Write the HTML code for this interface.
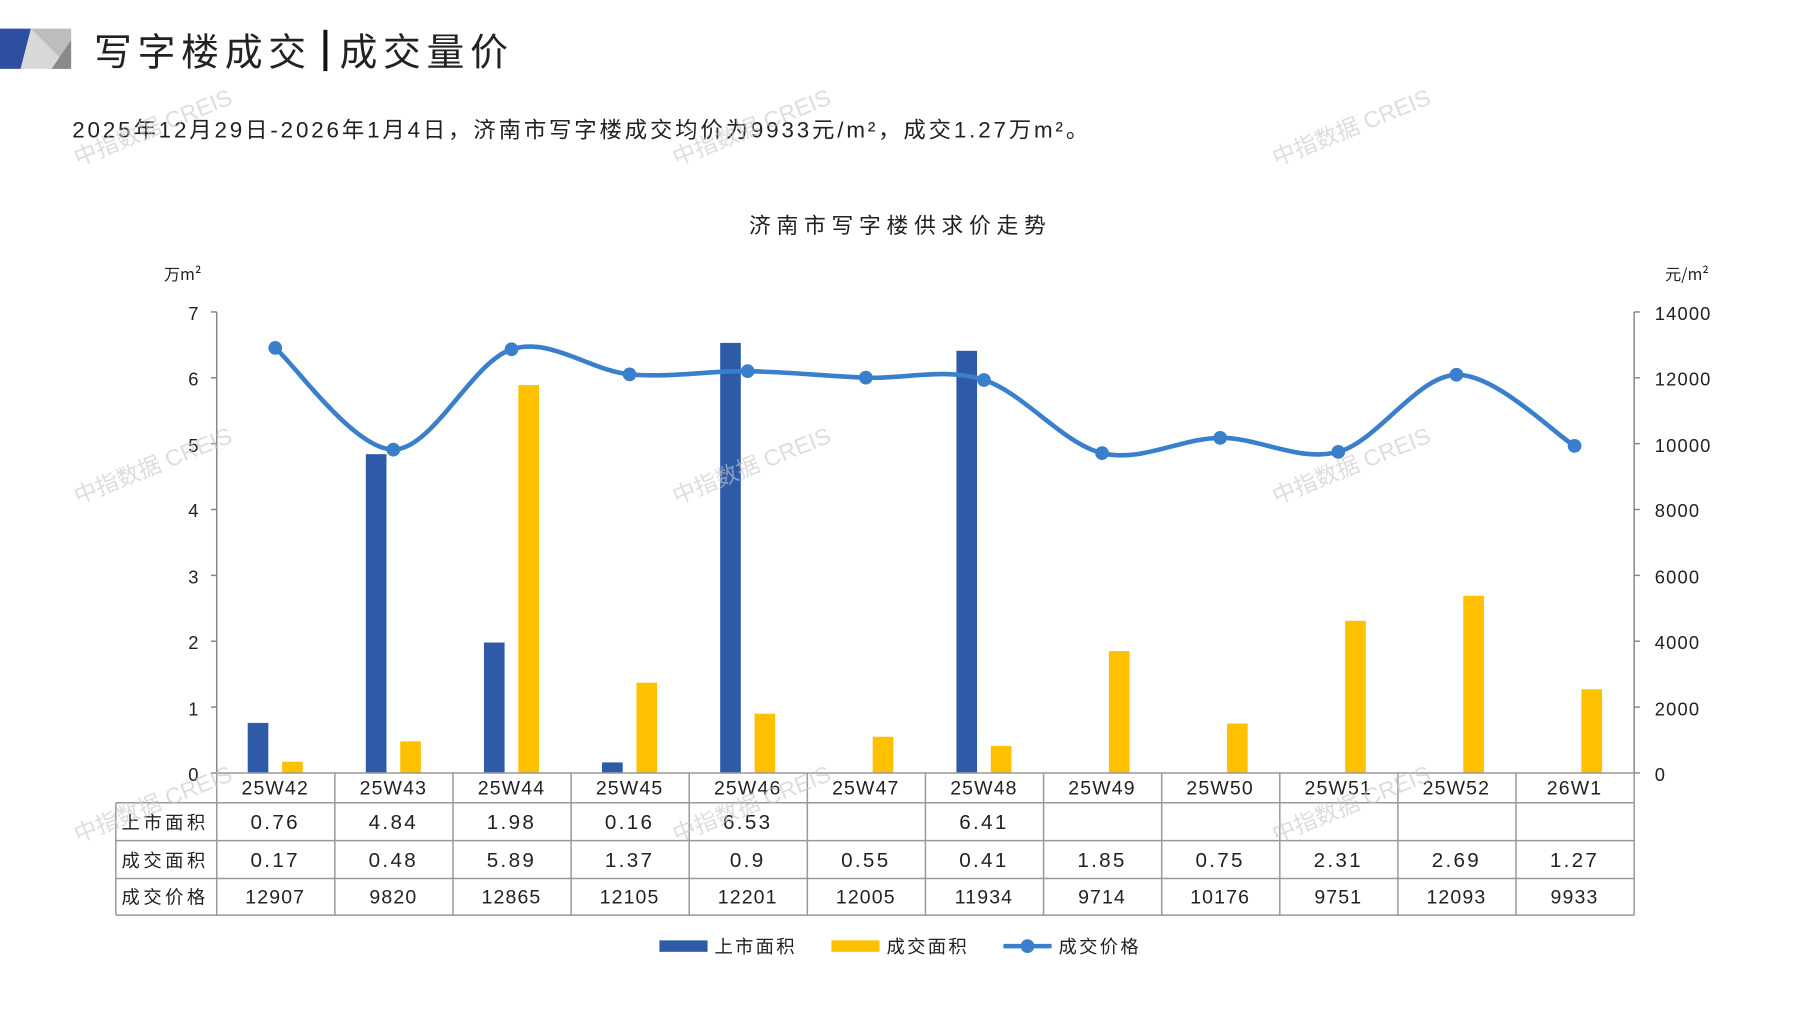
<!DOCTYPE html>
<html><head><meta charset="utf-8"><style>
html,body{margin:0;padding:0;background:#fff;}
svg{display:block;}
text{font-family:"Liberation Sans","Noto Sans CJK SC",sans-serif;fill:#222;}
.cjk{font-family:"Noto Sans CJK SC","WenQuanYi Zen Hei",sans-serif;}
.wm{font-family:"Liberation Sans","Noto Sans CJK SC",sans-serif;fill:#c8c8c8;font-size:20px;opacity:.6}
</style></head><body>
<svg id="s" width="1797" height="1010" viewBox="0 0 1567 880.7" xmlns="http://www.w3.org/2000/svg">
<polygon points="0,25 27,25 18,60 0,60" fill="#2E4FA0"/>
<polygon points="27,25 62,25 62,60 18,60" fill="#d8d8d8"/>
<polygon points="27,25 62,25 62,60" fill="#bdbdbd"/>
<polygon points="62,35 62,60 45,60" fill="#8a8a8a"/>
<text x="82" y="57" font-size="33" class="cjk" fill="#111" letter-spacing="5">写字楼成交</text>
<rect x="282" y="26" width="3.5" height="36" fill="#111"/>
<text x="296" y="57" font-size="33" class="cjk" fill="#111" letter-spacing="5">成交量价</text>
<text x="63" y="120" font-size="19.5" fill="#333" letter-spacing="2.5">2025年12月29日-2026年1月4日，济南市写字楼成交均价为9933元/m²，成交1.27万m²。</text>
<text x="785" y="203" font-size="19" text-anchor="middle" class="cjk" fill="#444" letter-spacing="5">济南市写字楼供求价走势</text>
<text x="143" y="244" font-size="14" class="cjk">万m²</text>
<text x="1452" y="244" font-size="14" class="cjk">元/m²</text>
<g id="axes" stroke="#888" stroke-width="1.3" fill="none">
<line x1="189" y1="272" x2="189" y2="674"/>
<line x1="1425" y1="272" x2="1425" y2="674"/>
</g>
<g font-size="16" text-anchor="end">
<text x="173" y="279">7</text><text x="173" y="336">6</text><text x="173" y="394">5</text><text x="173" y="451">4</text><text x="173" y="509">3</text><text x="173" y="566">2</text><text x="173" y="624">1</text><text x="173" y="681">0</text>
</g>
<g font-size="16" letter-spacing="1">
<text x="1443" y="279">14000</text><text x="1443" y="336">12000</text><text x="1443" y="394">10000</text><text x="1443" y="451">8000</text><text x="1443" y="509">6000</text><text x="1443" y="566">4000</text><text x="1443" y="624">2000</text><text x="1443" y="681">0</text>
</g>
<g id="bars"></g>
<path d="M240,303.4 C257.2,318.2 308.7,391.8 343,392 C377.3,392.2 411.7,315.5 446,304.6 C480.3,293.7 514.7,323.2 549,326.4 C583.3,329.6 617.7,323.2 652,323.7 C686.3,324.2 720.7,328.0 755,329.3 C789.3,330.6 823.7,320.3 858,331.3 C892.3,342.3 926.7,386.7 961,395.1 C995.3,403.5 1029.7,382.0 1064,381.8 C1098.3,381.6 1132.7,403.2 1167,394.0 C1201.3,384.8 1235.7,327.7 1270,326.8 C1304.3,325.9 1355.8,378.5 1373,388.8" fill="none" stroke="#3A7FCB" stroke-width="4"/>
<g id="dots" fill="#3A7FCB"></g>
<g id="table" stroke="#999" stroke-width="1.3"></g>
<g font-size="17" text-anchor="middle" id="tt" letter-spacing="1">
<text x="240" y="693">25W42</text><text x="343" y="693">25W43</text><text x="446" y="693">25W44</text><text x="549" y="693">25W45</text><text x="652" y="693">25W46</text><text x="755" y="693">25W47</text><text x="858" y="693">25W48</text><text x="961" y="693">25W49</text><text x="1064" y="693">25W50</text><text x="1167" y="693">25W51</text><text x="1270" y="693">25W52</text><text x="1373" y="693">26W1</text>
</g>
<g font-size="18" text-anchor="middle" letter-spacing="2">
<text x="240" y="723">0.76</text><text x="343" y="723">4.84</text><text x="446" y="723">1.98</text><text x="549" y="723">0.16</text><text x="652" y="723">6.53</text><text x="858" y="723">6.41</text>
<text x="240" y="756">0.17</text><text x="343" y="756">0.48</text><text x="446" y="756">5.89</text><text x="549" y="756">1.37</text><text x="652" y="756">0.9</text><text x="755" y="756">0.55</text><text x="858" y="756">0.41</text><text x="961" y="756">1.85</text><text x="1064" y="756">0.75</text><text x="1167" y="756">2.31</text><text x="1270" y="756">2.69</text><text x="1373" y="756">1.27</text>
</g>
<g font-size="17" text-anchor="middle" letter-spacing="1">
<text x="240" y="788">12907</text><text x="343" y="788">9820</text><text x="446" y="788">12865</text><text x="549" y="788">12105</text><text x="652" y="788">12201</text><text x="755" y="788">12005</text><text x="858" y="788">11934</text><text x="961" y="788">9714</text><text x="1064" y="788">10176</text><text x="1167" y="788">9751</text><text x="1270" y="788">12093</text><text x="1373" y="788">9933</text>
</g>
<g font-size="16" class="cjk">
<text x="106" y="723" class="cjk" letter-spacing="3">上市面积</text>
<text x="106" y="756" class="cjk" letter-spacing="3">成交面积</text>
<text x="106" y="788" class="cjk" letter-spacing="3">成交价格</text>
</g>
<rect x="575" y="820" width="42" height="10" fill="#2E5AA8"/>
<text x="623" y="831" font-size="16" class="cjk" letter-spacing="2">上市面积</text>
<rect x="725" y="820" width="42" height="10" fill="#FFC000"/>
<text x="773" y="831" font-size="16" class="cjk" letter-spacing="2">成交面积</text>
<line x1="875" y1="825" x2="917" y2="825" stroke="#3A7FCB" stroke-width="4"/>
<circle cx="896" cy="825" r="6" fill="#3A7FCB"/>
<text x="923" y="831" font-size="16" class="cjk" letter-spacing="2">成交价格</text>
<g id="wms"></g>
</svg>
<script>
var NS="http://www.w3.org/2000/svg";
function el(t,a,p){var e=document.createElementNS(NS,t);for(var k in a)e.setAttribute(k,a[k]);document.getElementById(p).appendChild(e);return e;}
var blue=[0.76,4.84,1.98,0.16,6.53,0,6.41,0,0,0,0,0];
var yel=[0.17,0.48,5.89,1.37,0.9,0.55,0.41,1.85,0.75,2.31,2.69,1.27];
var price=[12907,9820,12865,12105,12201,12005,11934,9714,10176,9751,12093,9933];
var u=402/7;
for(var i=0;i<12;i++){var c=240+103*i;
 if(blue[i]>0){var h=blue[i]*u;el("rect",{x:c-24,y:674-h,width:18,height:h,fill:"#2E5AA8"},"bars");}
 var h2=yel[i]*u;el("rect",{x:c+6,y:674-h2,width:18,height:h2,fill:"#FFC000"},"bars");
 el("circle",{cx:c,cy:674-price[i]/14000*402,r:6},"dots");
}
for(var j=0;j<=7;j++){var y=272+j*u;el("line",{x1:184,y1:y,x2:189,y2:y},"axes");el("line",{x1:1425,y1:y,x2:1430,y2:y},"axes");}
var rows=[674,700,733,766,798];
el("line",{x1:189,y1:674,x2:1425,y2:674},"table");
for(var r=1;r<5;r++)el("line",{x1:101,y1:rows[r],x2:1425,y2:rows[r]},"table");
el("line",{x1:101,y1:700,x2:101,y2:798},"table");
for(var k=0;k<=12;k++){var x=189+103*k;el("line",{x1:x,y1:674,x2:x,y2:798},"table");}
var xs=[68,590,1113],ys=[145,440,735];
xs.forEach(function(x){ys.forEach(function(y){var t=el("text",{x:x,y:y,"class":"wm",transform:"rotate(-22 "+x+" "+y+")"},"wms");t.textContent="中指数据 CREIS";});});
</script>
</body></html>
